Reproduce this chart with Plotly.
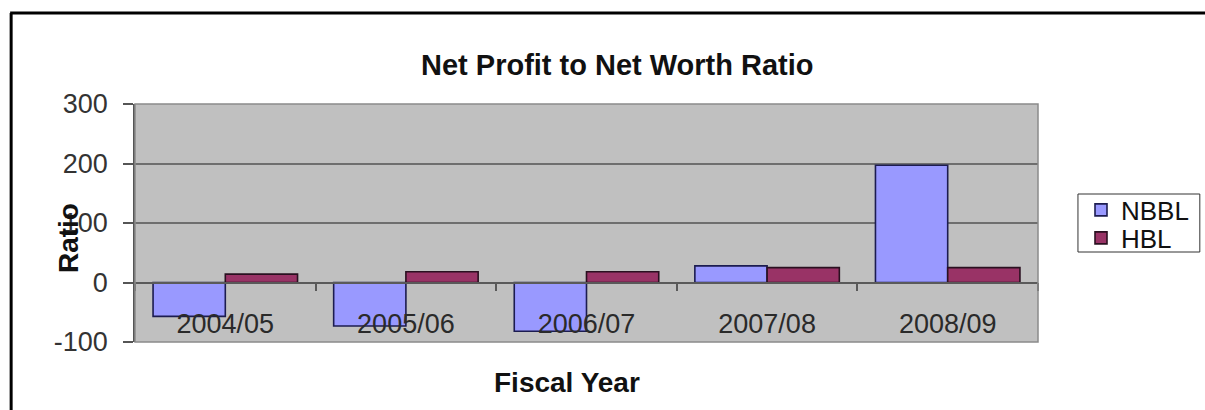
import plotly.graph_objects as go

# Fiscal years and net profit / net worth ratios
fiscal_years = ["2004/05", "2005/06", "2006/07", "2007/08", "2008/09"]
nbbl_ratio = [-57, -73, -82, 28, 197]
hbl_ratio = [14, 18, 18, 25, 25]
y_ticks = [-100, 0, 100, 200, 300]

W, H = 1205, 410
L, R, T, B = 135, 166, 104, 68
PW, PH = W - L - R, H - T - B
Y_MIN, Y_MAX = -100, 300


def px_x(p):
    return (p - L) / PW


def px_y(p):
    return (H - B - p) / PH


FONT = "Liberation Sans, Arial, sans-serif"
zero_pos = (0 - Y_MIN) / (Y_MAX - Y_MIN)  # paper height of the value-zero line

fig = go.Figure()
fig.add_trace(go.Bar(
    x=fiscal_years, y=nbbl_ratio, name="NBBL", legend="legend",
    marker=dict(color="#9999ff", line=dict(color="#1c1c50", width=1.6)),
))
fig.add_trace(go.Bar(
    x=fiscal_years, y=hbl_ratio, name="HBL", legend="legend2",
    marker=dict(color="#993366", line=dict(color="#2a1020", width=1.6)),
))

legend_common = dict(
    xanchor="left", yanchor="middle", bgcolor="rgba(0,0,0,0)", borderwidth=0,
    font=dict(size=26, family=FONT, color="#111"), itemwidth=30,
)

fig.update_layout(
    width=W, height=H,
    margin=dict(l=L, r=R, t=T, b=B, pad=0),
    paper_bgcolor="white",
    plot_bgcolor="#c0c0c0",
    barmode="group", bargap=0.2, bargroupgap=0,
    font=dict(family=FONT, color="#222"),
    showlegend=True,
    legend=dict(x=px_x(1081), y=px_y(210), **legend_common),
    legend2=dict(x=px_x(1081), y=px_y(238), **legend_common),
    xaxis=dict(
        type="category",
        anchor="free", position=zero_pos,
        showline=True, linecolor="#5a5a5a", linewidth=1.5,
        showgrid=False, zeroline=False,
        ticks="outside", tickson="boundaries", ticklen=8,
        tickcolor="#5a5a5a", tickwidth=1.5,
        ticklabelstandoff=17,
        tickfont=dict(size=27, family=FONT, color="#2a2a2a"),
    ),
    yaxis=dict(
        range=[Y_MIN, Y_MAX], tickvals=y_ticks, ticktext=[str(v) for v in y_ticks],
        showline=True, linecolor="#555", linewidth=1.5,
        showgrid=True, gridcolor="#6e6e6e", gridwidth=1.5,
        zeroline=False,
        ticks="outside", ticklen=10, tickcolor="#555", tickwidth=1.5,
        ticklabelstandoff=10,
        tickfont=dict(size=27, family=FONT, color="#333"),
    ),
    annotations=[
        dict(text="<b>Net Profit to Net Worth Ratio</b>", xref="paper", yref="paper",
             x=px_x(618), y=px_y(65), xanchor="center", yanchor="middle",
             showarrow=False, font=dict(size=29, family=FONT, color="#111")),
        dict(text="<b>Fiscal Year</b>", xref="paper", yref="paper",
             x=px_x(567), y=px_y(382), xanchor="center", yanchor="middle",
             showarrow=False, font=dict(size=28, family=FONT, color="#111")),
        dict(text="<b>Ratio</b>", xref="paper", yref="paper",
             x=px_x(68), y=px_y(238), xanchor="center", yanchor="middle",
             showarrow=False, textangle=-90,
             font=dict(size=28, family=FONT, color="#111")),
    ],
    shapes=[
        # plot area border
        dict(type="rect", xref="paper", yref="paper", x0=0, y0=0, x1=1, y1=1,
             line=dict(color="#8a8a8a", width=1.5), layer="above"),
        # legend box
        dict(type="rect", xref="paper", yref="paper",
             x0=px_x(1079), y0=px_y(252), x1=px_x(1201), y1=px_y(194),
             line=dict(color="#333", width=1), fillcolor="white", layer="below"),
        # outer chart frame (left and top edges)
        dict(type="line", xref="paper", yref="paper",
             x0=px_x(11), y0=px_y(H + 5), x1=px_x(11), y1=px_y(13),
             line=dict(color="black", width=3)),
        dict(type="line", xref="paper", yref="paper",
             x0=px_x(10), y0=px_y(13), x1=px_x(W + 5), y1=px_y(13),
             line=dict(color="black", width=3)),
    ],
)

fig.write_html("out.html")
